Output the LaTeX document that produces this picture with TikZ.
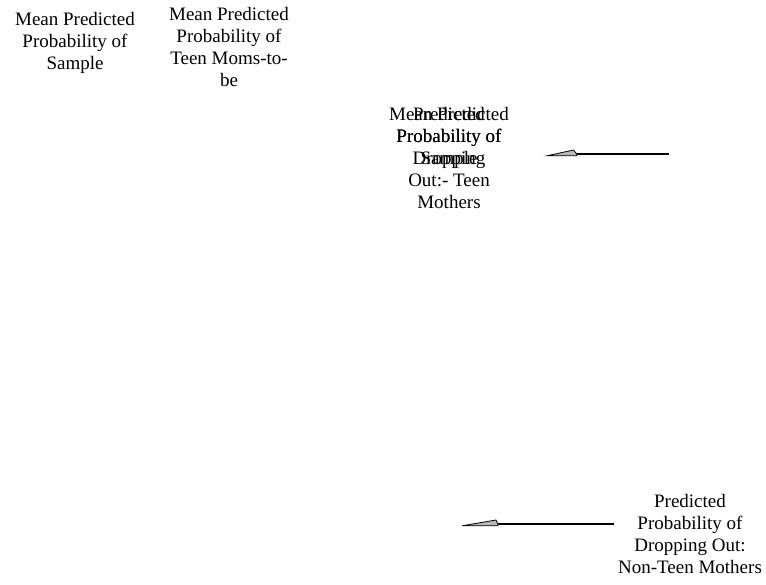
\documentclass[tikz,border=0pt]{standalone}
\usepackage{fontspec}
\setmainfont{Liberation Serif}
\begin{document}
\begin{tikzpicture}[x=1pt,y=-1pt,
  lbl/.style={align=center,inner sep=0pt,anchor=north,font=\fontsize{19}{22}\selectfont},
  callline/.style={draw=black,line width=2pt},
  wedge/.style={draw=black,line width=0.8pt,fill=black!28,line join=miter}]
\useasboundingbox (0,0) rectangle (766,584);
\node[lbl] (sample) at (75,12.5) {Mean Predicted\\Probability of\\Sample};
\node[lbl] (teen) at (229,7.5) {Mean Predicted\\Probability of\\Teen Moms-to-\\be};
\node[lbl] (midA) at (449,107.5) {Mean Predicted\\Probability of\\Sample};
\node[lbl] (midB) at (449,107.5) {Predicted\\Probability of\\Dropping\\Out:- Teen\\Mothers};
\node[lbl] (nonteen) at (690,494.5) {Predicted\\Probability of\\Dropping Out:\\Non-Teen Mothers};
% callout 1
\coordinate (c1end) at (669,154.3);
\coordinate (c1join) at (577,154.3);
\coordinate (c1top) at (573.5,150);
\coordinate (c1tip) at (547,155.8);
\coordinate (c1bot) at (577,155.8);
\draw[callline] (c1end) -- (c1join);
\draw[wedge] (c1tip) -- (c1top) -- (c1join) -- (c1bot) -- cycle;
% callout 2
\coordinate (c2end) at (614,524.3);
\coordinate (c2join) at (498,524.3);
\coordinate (c2top) at (496,520);
\coordinate (c2tip) at (462,525.8);
\coordinate (c2bot) at (498,525.8);
\draw[callline] (c2end) -- (c2join);
\draw[wedge] (c2tip) -- (c2top) -- (c2join) -- (c2bot) -- cycle;
\end{tikzpicture}
\end{document}
